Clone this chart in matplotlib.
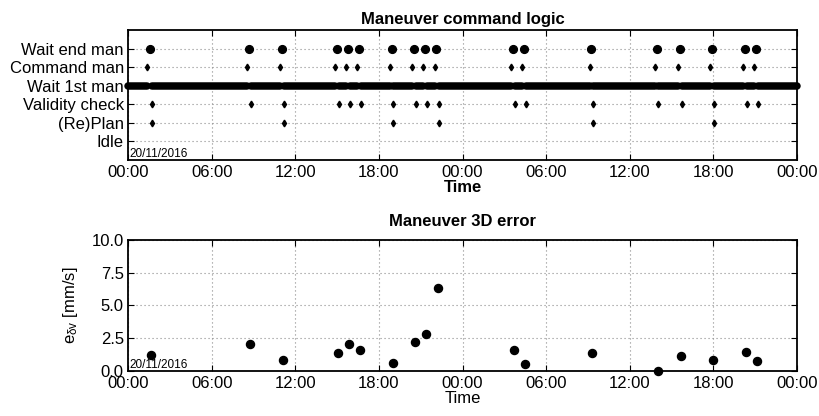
import numpy as np
import matplotlib
matplotlib.use('Agg')
import matplotlib.pyplot as plt

plt.rcParams['font.family'] = ['Liberation Sans', 'DejaVu Sans']
plt.rcParams['mathtext.fontset'] = 'custom'
plt.rcParams['mathtext.rm'] = 'Liberation Sans'
plt.rcParams['mathtext.it'] = 'Liberation Sans:italic'

# --- states of the maneuver command logic ---
state_labels = ['Idle', '(Re)Plan', 'Validity check', 'Wait 1st man', 'Command man', 'Wait end man']

# hours since 20/11/2016 00:00
t_command = [1.37, 8.53, 10.90, 14.88, 15.66, 16.46, 18.80, 20.36, 21.17, 21.99,
             27.50, 28.26, 33.12, 37.80, 39.45, 41.75, 44.12, 44.91]
t_wait_end = [1.56, 8.65, 11.04, 15.00, 15.78, 16.58, 18.95, 20.50, 21.29, 22.13,
              27.64, 28.43, 33.22, 37.92, 39.60, 41.87, 44.24, 45.05]
t_validity = [1.70, 8.82, 11.20, 15.12, 15.90, 16.72, 19.03, 20.63, 21.44, 22.30,
              27.76, 28.55, 33.37, 38.03, 39.74, 42.01, 44.39, 45.18]
t_replan = [1.70, 11.20, 19.03, 22.30, 33.37, 42.01]

# maneuver 3D error
t_error = [1.63, 8.74, 11.11, 15.07, 15.86, 16.67, 19.04, 20.60, 21.39, 22.23,
           27.71, 28.50, 33.30, 37.99, 39.69, 41.94, 44.33, 45.12]
dv_error = [1.25, 2.09, 0.84, 1.35, 2.09, 1.58, 0.64, 2.19, 2.81, 6.33,
            1.63, 0.51, 1.35, 0.03, 1.15, 0.84, 1.45, 0.74]

hour_ticks = [0, 6, 12, 18, 24, 30, 36, 42, 48]
hour_labels = ['00:00', '06:00', '12:00', '18:00', '00:00', '06:00', '12:00', '18:00', '00:00']
err_ticks = [0.0, 2.5, 5.0, 7.5, 10.0]

GRID = dict(color='0.55', linestyle=(0, (1, 2.6)), linewidth=0.8)


def style_axes(ax):
  ax.set_xlim(0, 48)
  ax.set_xticks(hour_ticks)
  ax.set_xticklabels(hour_labels)
  ax.tick_params(direction='in', top=True, right=True, labelsize=12, length=4, width=0.8)
  ax.tick_params(axis='y', pad=3)
  for sp in ax.spines.values():
    sp.set_linewidth(1.3)
  ax.grid(True, **GRID)
  ax.set_axisbelow(True)
  ax.text(0.002, 0.0, '20/11/2016', transform=ax.transAxes, ha='left', va='bottom', fontsize=8.5)


def plot_logic(ax):
  # wait 1st man: continuous between maneuvers
  starts = [0.0] + t_validity
  ends = t_command + [48.0]
  ax.hlines([3] * len(starts), starts, ends, colors='k', linewidth=5.4,
            capstyle='round', clip_on=False, zorder=3)
  ax.plot(t_wait_end, [5] * len(t_wait_end), 'o', color='k', ms=5.6, zorder=3)
  ax.plot(t_command, [4] * len(t_command), 'd', color='k', ms=3.4, zorder=3)
  ax.plot(t_validity, [2] * len(t_validity), 'd', color='k', ms=3.4, zorder=3)
  ax.plot(t_replan, [1] * len(t_replan), 'd', color='k', ms=3.4, zorder=3)
  style_axes(ax)
  ax.set_ylim(-1, 6)
  ax.set_yticks(range(len(state_labels)))
  ax.set_yticklabels(state_labels)
  ax.set_title('Maneuver command logic', fontsize=12, fontweight='bold', pad=4)
  ax.set_xlabel('Time', fontsize=12, fontweight='bold', labelpad=0)


def plot_error(ax):
  ax.plot(t_error, dv_error, 'o', color='k', ms=5.8, clip_on=False, zorder=3)
  style_axes(ax)
  ax.set_ylim(0, 10)
  ax.set_yticks(err_ticks)
  ax.set_yticklabels([f'{v:.1f}' for v in err_ticks])
  ax.set_title('Maneuver 3D error', fontsize=12, fontweight='bold', pad=10)
  ax.set_xlabel('Time', fontsize=12, labelpad=0)
  ax.set_ylabel(r'e$_{\mathregular{δv}}$ [mm/s]', fontsize=12, labelpad=8)


def main():
  fig = plt.figure(figsize=(8.2, 4.16), dpi=100)
  ax1 = fig.add_axes([0.1561, 0.6154, 0.8159, 0.3125])
  ax2 = fig.add_axes([0.1561, 0.1082, 0.8159, 0.3149])
  plot_logic(ax1)
  plot_error(ax2)
  fig.savefig('out.png', dpi=100)


if __name__ == "__main__":
  main()
